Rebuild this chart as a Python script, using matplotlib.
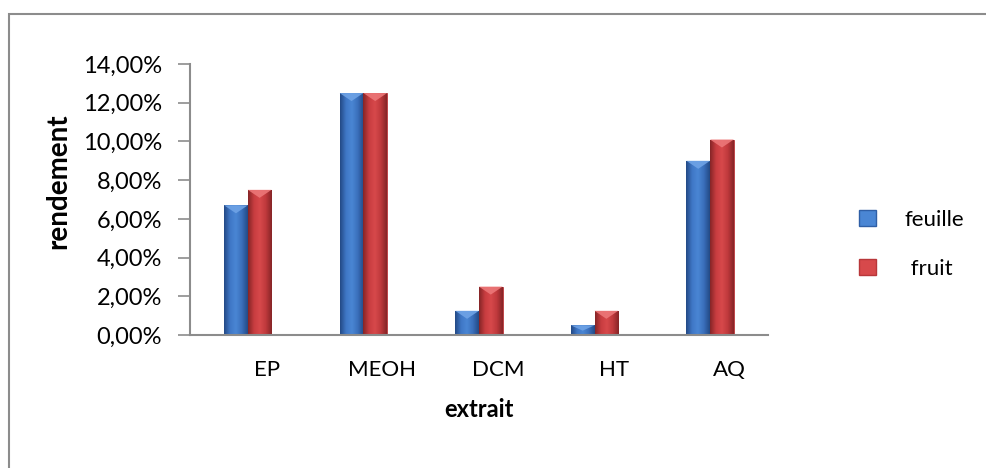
import numpy as np
import matplotlib.pyplot as plt
import matplotlib.patches as mpatches
from matplotlib.colors import LinearSegmentedColormap
from matplotlib.ticker import FuncFormatter, MultipleLocator

plt.rcParams['font.family'] = ['Lato', 'DejaVu Sans']

categories = ["EP", "MEOH", "DCM", "HT", "AQ"]
feuille = [0.067, 0.125, 0.0125, 0.005, 0.090]
fruit = [0.075, 0.125, 0.025, 0.0125, 0.101]
series_names = ["feuille", "fruit"]

fig = plt.figure(figsize=(9.87, 4.68), dpi=100)
ax = fig.add_axes([0.1925, 0.2842, 0.5855, 0.579])

# outer frame of the chart area
fig.patches.append(mpatches.Rectangle((9 / 987, -0.05), 1.1, 0.05 + (468 - 14) / 468,
                                      transform=fig.transFigure, fill=False,
                                      edgecolor="#8c8c8c", linewidth=1.5))

x = np.arange(len(categories))
w = 0.205

styles = [
    ("#2f5fa6", ["#234a86", "#3f77c6", "#4a86d4", "#3a6fbb", "#234a86"], "#6fa3e6"),
    ("#b8373a", ["#862527", "#c83d40", "#d7494b", "#bf393c", "#862527"], "#ec7778"),
]

ax.set_xlim(-0.5, len(categories) - 0.5)
ax.set_ylim(0, 0.14)

px = 0.14 / (0.579 * 468)  # data units per pixel in y
grad = np.linspace(0, 1, 64).reshape(1, -1)

for k, vals in enumerate([feuille, fruit]):
    edge, cols, tip = styles[k]
    cmap = LinearSegmentedColormap.from_list("b%d" % k, cols)
    offs = -w / 2 if k == 0 else w / 2
    bars = ax.bar(x + offs, vals, w, color=cols[2], edgecolor=edge, linewidth=0.6,
                  label=series_names[k], zorder=2)
    for b, v in zip(bars, vals):
        x0 = b.get_x()
        im = ax.imshow(grad, cmap=cmap, extent=(x0, x0 + w, 0, v), aspect="auto",
                       zorder=2.5)
        im.set_clip_path(b)
        th = min(8 * px, v * 0.55)
        tri = mpatches.Polygon([(x0, v), (x0 + w, v), (x0 + w / 2, v - th)],
                               closed=True, facecolor=tip, edgecolor="none",
                               alpha=0.9, zorder=3)
        ax.add_patch(tri)

ax.set_xlim(-0.5, len(categories) - 0.5)
ax.set_ylim(0, 0.14)

ax.yaxis.set_major_locator(MultipleLocator(0.02))
ax.yaxis.set_major_formatter(FuncFormatter(lambda v, p: ("%.2f%%" % (v * 100)).replace(".", ",")))
# category labels sit a little right of the bar pairs
ax.set_xticks(x + 0.165)
ax.set_xticklabels(categories)

for s in ["top", "right"]:
    ax.spines[s].set_visible(False)
for s in ["left", "bottom"]:
    ax.spines[s].set_color("#8c8c8c")
    ax.spines[s].set_linewidth(1.5)
ax.tick_params(axis="y", direction="out", length=9, width=1.2, color="#8c8c8c",
               labelsize=17, pad=11)
ax.tick_params(axis="x", length=0, labelsize=16, pad=18)

ax.set_ylabel("rendement", fontsize=20, fontweight="bold")
ax.yaxis.set_label_coords(-0.205, 0.568)
ax.set_xlabel("extrait", fontsize=17, fontweight="bold", labelpad=13)

handles = [mpatches.Patch(facecolor=styles[i][1][2], edgecolor=styles[i][0]) for i in range(2)]
fig.legend(handles, ["feuille", " fruit"], loc="center left",
           bbox_to_anchor=(0.85, 0.478), frameon=False, fontsize=16,
           handlelength=0.75, handleheight=0.7, handletextpad=1.3, labelspacing=1.3)

fig.savefig("out.png", dpi=100, facecolor="white")
